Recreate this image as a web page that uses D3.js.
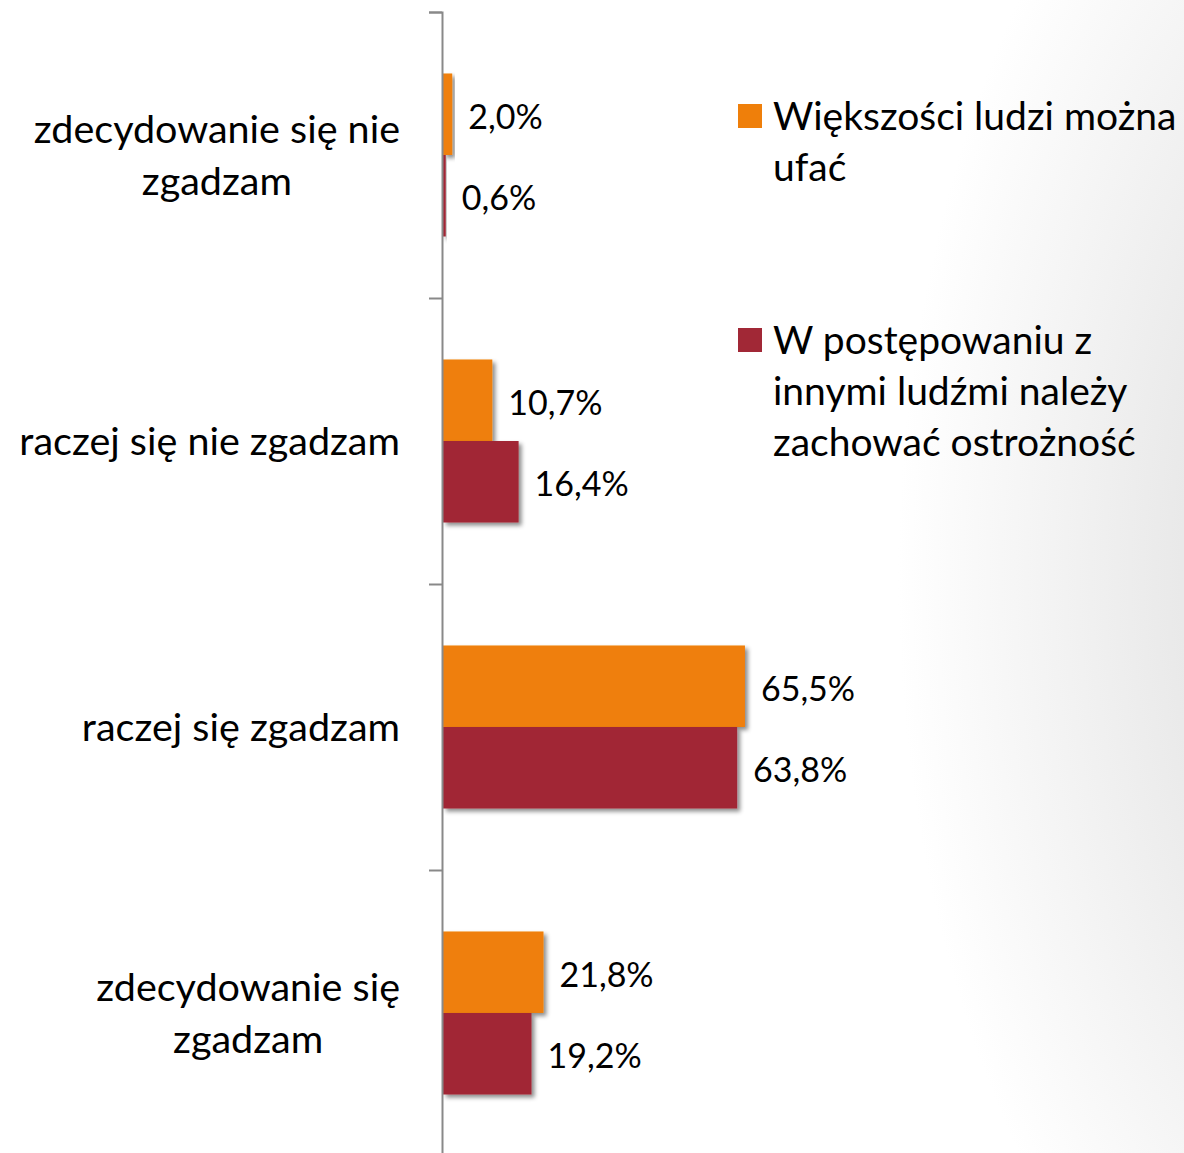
<!doctype html>
<html>
<head>
  <meta charset="utf-8">
  <script src="https://cdnjs.cloudflare.com/ajax/libs/d3/7.8.5/d3.min.js"></script>
  <style>
    body { margin: 0; background: #fff; }
    svg { display: block; font-family: Lato, "Open Sans", sans-serif; }
  </style>
</head>
<body>
  <svg id="chart" width="1184" height="1153"></svg>
  <script>
    // categories (y axis, top to bottom), each split into its display lines
    var categories = ["zdecydowanie się nie zgadzam", "raczej się nie zgadzam", "raczej się zgadzam", "zdecydowanie się zgadzam"];
    var categoryLines = [["zdecydowanie się nie", "zgadzam"], ["raczej się nie zgadzam"], ["raczej się zgadzam"], ["zdecydowanie się", "zgadzam"]];

    // series
    var seriesNames = ["Większości ludzi można ufać", "W postępowaniu z innymi ludźmi należy zachować ostrożność"];
    var legendLines = [["Większości ludzi można", "ufać"], ["W postępowaniu z", "innymi ludźmi należy", "zachować ostrożność"]];
    var trustValues = [2.0, 10.7, 65.5, 21.8];
    var cautionValues = [0.6, 16.4, 63.8, 19.2];
    var colors = ["#ef7f0a", "#a12836"];

    var svg = d3.select("#chart");
    var W = 1184, H = 1153;

    // background shading on the right side
    var defs = svg.append("defs");
    var grad = defs.append("radialGradient").attr("id", "bg")
      .attr("gradientUnits", "userSpaceOnUse")
      .attr("cx", 1500).attr("cy", 576).attr("r", 700)
      .attr("gradientTransform", "translate(1500,576) scale(1,1.6) translate(-1500,-576)");
    grad.append("stop").attr("offset", "0.4").attr("stop-color", "#e6e6e6");
    grad.append("stop").attr("offset", "0.86").attr("stop-color", "#ffffff");
    svg.append("rect").attr("width", W).attr("height", H).attr("fill", "url(#bg)");

    var shadow = defs.append("filter").attr("id", "shadow").attr("x", "-10%").attr("y", "-10%").attr("width", "130%").attr("height", "130%");
    shadow.append("feDropShadow").attr("dx", 3).attr("dy", 3).attr("stdDeviation", 2.2)
      .attr("flood-color", "#000").attr("flood-opacity", 0.45);

    var plotTop = 12, step = 286;
    var y0 = d3.scaleBand()
      .domain(categories)
      .range([plotTop, plotTop + step * categories.length])
      .paddingInner(0.43)
      .paddingOuter(0.215);

    var y1 = d3.scaleBand()
      .domain([0, 1])
      .range([0, y0.bandwidth()]);

    var x = d3.scaleLinear().domain([0, 100]).range([443, 904]);

    var rows = categories.map(function (c, i) {
      return { cat: c, values: [trustValues[i], cautionValues[i]] };
    });

    // bars
    var groups = svg.selectAll("g.cat")
      .data(rows)
      .enter()
      .append("g")
      .attr("class", "cat")
      .attr("transform", function (d) { return "translate(0," + y0(d.cat) + ")"; });

    groups.selectAll("rect")
      .data(function (d) { return d.values.map(function (v, s) { return { v: v, s: s }; }); })
      .enter()
      .append("rect")
      .attr("x", x(0))
      .attr("y", function (d) { return y1(d.s); })
      .attr("width", function (d) { return Math.max(1.5, x(d.v) - x(0)); })
      .attr("height", y1.bandwidth())
      .attr("fill", function (d) { return colors[d.s]; })
      .attr("filter", "url(#shadow)");

    groups.selectAll("text.val")
      .data(function (d) { return d.values.map(function (v, s) { return { v: v, s: s }; }); })
      .enter()
      .append("text")
      .attr("class", "val")
      .attr("x", function (d) { return x(d.v) + 16; })
      .attr("y", function (d) { return y1(d.s) + y1.bandwidth() / 2; })
      .attr("dy", "0.42em")
      .attr("font-size", 34)
      .attr("fill", "#000")
      .text(function (d) { return d3.format(".1f")(d.v).replace(".", ",") + "%"; });

    // axis: ticks at band boundaries
    var yb = d3.scaleLinear().domain([0, categories.length]).range([plotTop, plotTop + step * categories.length]);
    var axis = svg.append("g")
      .attr("transform", "translate(442,0)")
      .call(d3.axisLeft(yb).ticks(categories.length).tickSize(13).tickFormat(""));
    axis.selectAll("path, line").attr("stroke", "#898989").attr("stroke-width", 2);

    // category labels
    var lineH = 52;
    categoryLines.forEach(function (lines, i) {
      var cy = y0(categories[i]) + y0.bandwidth() / 2;
      var t = svg.append("text")
        .attr("font-size", 39.5)
        .attr("fill", "#000")
        .attr("text-anchor", "middle");
      lines.forEach(function (l, k) {
        t.append("tspan").attr("x", 0)
          .attr("y", cy + (k - (lines.length - 1) / 2) * lineH)
          .attr("dy", "0.35em")
          .text(l);
      });
      var bb = t.node().getBBox();
      t.attr("transform", "translate(" + (400 - bb.width / 2) + ",0)");
    });

    // legend
    var legendY = [116, 340];
    legendLines.forEach(function (lines, i) {
      svg.append("rect")
        .attr("x", 738).attr("y", legendY[i] - 12)
        .attr("width", 24).attr("height", 24)
        .attr("fill", colors[i]);
      var t = svg.append("text").attr("font-size", 39).attr("fill", "#000");
      lines.forEach(function (l, k) {
        t.append("tspan").attr("x", 773).attr("y", legendY[i] + k * 51).attr("dy", "0.35em").text(l);
      });
    });
  </script>
</body>
</html>
